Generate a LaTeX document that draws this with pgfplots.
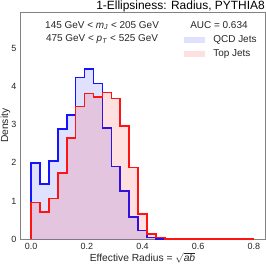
\documentclass[border=0pt]{standalone}
\usepackage{pgfplots}
\pgfplotsset{compat=1.18}
\usepackage{fontspec}
\setmainfont{Liberation Sans}
\definecolor{qcdline}{RGB}{20,20,255}
\definecolor{topline}{RGB}{255,20,20}
\definecolor{frame}{RGB}{130,130,130}
\begin{document}
\begin{tikzpicture}
\begin{axis}[
  name=ax,
  at={(0,0)}, anchor=south west,
  scale only axis, width=245bp, height=227bp,
  xmin=-0.04, xmax=0.84, ymin=0, ymax=5.94,
  xtick={0,0.2,0.4,0.6,0.8}, ytick={0,1,2,3,4,5},
  xticklabel style={/pgf/number format/.cd, fixed, fixed zerofill, precision=1},
  /pgf/number format/assume math mode=true,
  major tick length=0pt,
  tick style={draw=none},
  tick label style={font=\fontsize{9}{10}\selectfont, text=black!85},
  axis line style={draw=frame, line width=0.9bp},
  xlabel={Effective Radius = $\sqrt{\textit{ab}}$},
  ylabel={Density},
  every axis x label/.style={at={(axis description cs:0.5,0)}, anchor=center, yshift=-18.2bp},
  every axis y label/.style={at={(axis description cs:-0.0596,0.5)}, anchor=center, rotate=90},
  label style={font=\fontsize{10.3}{12}\selectfont, text=black!85},
  legend style={at={(0.655,0.915)}, anchor=north west, draw=none, fill=none,
    font=\fontsize{10}{12}\selectfont, row sep=1.5bp,
    nodes={inner sep=1.5bp, text height=7.5bp, text depth=2bp, text=black!85}},
  legend cell align=left,
  clip=true,
]
% QCD fill
\addplot[const plot, draw=none, fill=blue, fill opacity=0.12, forget plot] coordinates {
(0,2.00) (0.032,1.44) (0.064,2.05) (0.096,2.89) (0.128,3.25) (0.160,4.23) (0.192,4.46) (0.224,4.08) (0.256,2.92) (0.288,1.90) (0.320,1.26) (0.352,0.58) (0.384,0.23) (0.416,0.05) (0.448,0) (0.8,0)} \closedcycle;
% QCD outline
\addplot[const plot, draw=qcdline, line width=1.6bp, forget plot] coordinates {
(0,0) (0,2.00) (0.032,1.44) (0.064,2.05) (0.096,2.89) (0.128,3.25) (0.160,4.23) (0.192,4.46) (0.224,4.08) (0.256,2.92) (0.288,1.90) (0.320,1.26) (0.352,0.58) (0.384,0.23) (0.416,0.05) (0.448,0) (0.8,0)};
% Top fill
\addplot[const plot, draw=none, fill=red, fill opacity=0.12, forget plot] coordinates {
(0,0.96) (0.032,0.71) (0.064,1.07) (0.096,1.73) (0.128,2.65) (0.160,3.47) (0.192,3.81) (0.224,3.73) (0.256,3.84) (0.288,3.68) (0.320,2.97) (0.352,1.88) (0.384,0.66) (0.416,0.14) (0.448,0.045) (0.480,0) (0.8,0)} \closedcycle;
% Top outline
\addplot[const plot, draw=topline, line width=1.6bp, forget plot] coordinates {
(0,0) (0,0.96) (0.032,0.71) (0.064,1.07) (0.096,1.73) (0.128,2.65) (0.160,3.47) (0.192,3.81) (0.224,3.73) (0.256,3.84) (0.288,3.68) (0.320,2.97) (0.352,1.88) (0.384,0.66) (0.416,0.14) (0.448,0.045) (0.480,0) (0.8,0)};
\addlegendimage{legend image code/.code={\fill[draw=none, blue, fill opacity=0.12] (0bp,-3.4bp) rectangle (21bp,3.4bp); \path (28bp,0bp);}}
\addlegendentry{QCD Jets}
\addlegendimage{legend image code/.code={\fill[draw=none, red, fill opacity=0.12] (0bp,-3.4bp) rectangle (21bp,3.4bp); \path (28bp,0bp);}}
\addlegendentry{Top Jets}
\node[font=\fontsize{10}{12}\selectfont, text=black!85, anchor=center] at (rel axis cs:0.812,0.942) {AUC = 0.634};
\node[font=\fontsize{10}{12}\selectfont, text=black!85, anchor=center] at (rel axis cs:0.335,0.942) {145 GeV < \textit{m}\textsubscript{\textit{J}} < 205 GeV};
\node[font=\fontsize{10}{12}\selectfont, text=black!85, anchor=center] at (rel axis cs:0.335,0.880) {475 GeV < \textit{p}\textsubscript{\textit{T}} < 525 GeV};
\end{axis}
\node[anchor=base east, font=\fontsize{12}{14}\selectfont, inner sep=0pt] at (245bp,2.4bp+227bp) {1-Ellipsiness: Radius, PYTHIA8};
\pgfresetboundingbox
\path (-20bp,-26.7bp) rectangle (246bp,239.3bp);
\end{tikzpicture}
\end{document}
